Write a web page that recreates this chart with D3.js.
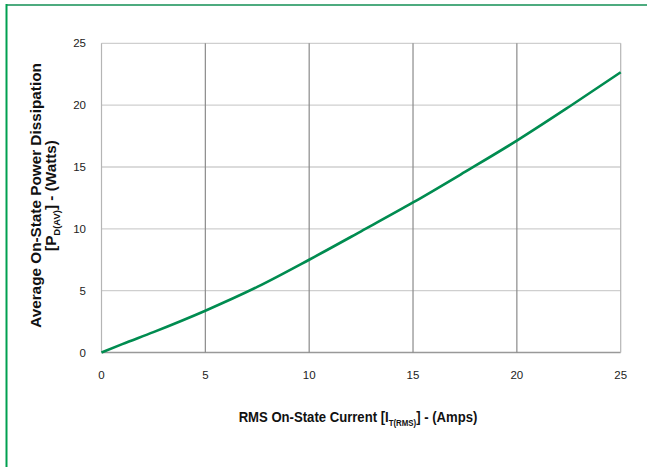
<!DOCTYPE html>
<html>
<head>
<meta charset="utf-8">
<script src="https://cdn.jsdelivr.net/npm/d3@7"></script>
<style>
  body { margin: 0; background: #fff; }
  text { font-family: "Liberation Sans", Arial, sans-serif; }
  .title { font-weight: bold; }
</style>
</head>
<body>
<script>
// RMS on-state current (A) vs average power dissipation (W)
var currentAmps = [0, 1, 2.5, 5, 7.5, 10, 12.5, 15, 17.5, 20, 22.5, 25];
var powerWatts  = [0, 0.68, 1.65, 3.38, 5.3, 7.5, 9.8, 12.13, 14.6, 17.13, 19.85, 22.66];
var xTicks = [0, 5, 10, 15, 20, 25];
var yTicks = [0, 5, 10, 15, 20, 25];

var width = 647,
    height = 467;

var svg = d3.select("body").append("svg")
    .attr("width", width)
    .attr("height", height);

// green frame (top + left only)
svg.append("line").attr("x1", 6).attr("x2", width).attr("y1", 5).attr("y2", 5)
    .attr("stroke", "#4dab7f").attr("stroke-width", 2);
svg.append("line").attr("x1", 6.5).attr("x2", 6.5).attr("y1", 4).attr("y2", height)
    .attr("stroke", "#00a050").attr("stroke-width", 2);

var x = d3.scaleLinear().domain([0, 25]).range([101.5, 620.7]);
var y = d3.scaleLinear().domain([0, 25]).range([352.5, 43.3]);

// horizontal grid
svg.append("g")
  .selectAll("line")
  .data(yTicks)
  .enter().append("line")
    .attr("x1", x(0)).attr("x2", x(25))
    .attr("y1", function(d) { return y(d); })
    .attr("y2", function(d) { return y(d); })
    .attr("stroke", function(d) { return d === 0 ? "#999" : "#cfcfcf"; })
    .attr("stroke-width", 1.3);

// vertical grid
svg.append("g")
  .selectAll("line")
  .data(xTicks)
  .enter().append("line")
    .attr("y1", y(0)).attr("y2", y(25))
    .attr("x1", function(d) { return x(d); })
    .attr("x2", function(d) { return x(d); })
    .attr("stroke", function(d) { return (d === 0 || d === 25) ? "#b5b5b5" : "#8a8a8a"; })
    .attr("stroke-width", 1.2);

// tick labels
svg.append("g")
  .selectAll("text")
  .data(yTicks)
  .enter().append("text")
    .attr("x", 86)
    .attr("y", function(d) { return y(d) + 4; })
    .attr("text-anchor", "end")
    .attr("font-size", 11.5)
    .attr("fill", "#222")
    .text(function(d) { return d; });

svg.append("g")
  .selectAll("text")
  .data(xTicks)
  .enter().append("text")
    .attr("x", function(d) { return x(d); })
    .attr("y", 379)
    .attr("text-anchor", "middle")
    .attr("font-size", 11.5)
    .attr("fill", "#222")
    .text(function(d) { return d; });

// curve
var line = d3.line()
    .x(function(d, i) { return x(currentAmps[i]); })
    .y(function(d) { return y(d); })
    .curve(d3.curveMonotoneX);

svg.append("path")
    .datum(powerWatts)
    .attr("d", line)
    .attr("fill", "none")
    .attr("stroke", "#008c50")
    .attr("stroke-width", 2.6);

// x axis title (condensed)
var xt = svg.append("g")
    .attr("transform", "translate(358,422) scale(0.875,1)")
  .append("text")
    .attr("class", "title")
    .attr("x", 0)
    .attr("text-anchor", "middle")
    .attr("font-size", 15)
    .attr("fill", "#111");
xt.append("tspan").text("RMS On-State Current [I");
xt.append("tspan").attr("font-size", 9).attr("dy", 4).text("T(RMS)");
xt.append("tspan").attr("dy", -4).text("] - (Amps)");

// y axis title
var yt = svg.append("g").attr("transform", "translate(0,195.5) rotate(-90)");
yt.append("text")
    .attr("class", "title")
    .attr("x", 0).attr("y", 40.5)
    .attr("text-anchor", "middle")
    .attr("font-size", 15.3)
    .attr("fill", "#111")
    .text("Average On-State Power Dissipation");
var yt2 = yt.append("text")
    .attr("class", "title")
    .attr("x", 0).attr("y", 56)
    .attr("text-anchor", "middle")
    .attr("font-size", 15.3)
    .attr("fill", "#111");
yt2.append("tspan").text("[P");
yt2.append("tspan").attr("font-size", 9.5).attr("dy", 4).text("D(AV)");
yt2.append("tspan").attr("dy", -4).text("] - (Watts)");
</script>
</body>
</html>
